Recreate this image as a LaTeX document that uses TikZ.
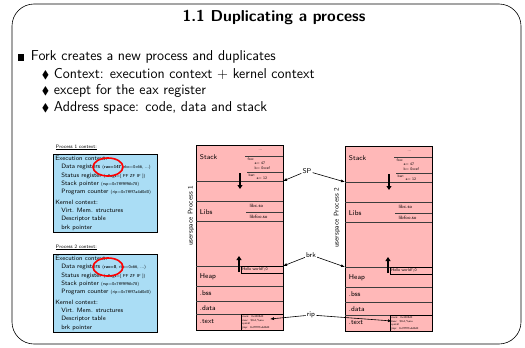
\documentclass[tikz,border=0pt]{standalone}
\usepackage{amssymb}
\usetikzlibrary{arrows.meta,shapes.geometric}
\renewcommand{\familydefault}{\sfdefault}

\definecolor{ctxblue}{RGB}{170,221,245}
\definecolor{mempink}{RGB}{255,184,184}
\definecolor{sectgray}{RGB}{60,60,60}

\newcommand{\ctxsmall}{\fontsize{4.3}{5}\selectfont}

\tikzset{
  slidetitle/.style={font=\fontsize{15.8}{18}\selectfont\bfseries, inner sep=0.75pt},
  bullettext/.style={font=\fontsize{14.3}{16}\selectfont, anchor=west, inner sep=0.75pt},
  ctxbox/.style={draw=black, line width=0.6pt, fill=ctxblue, anchor=north west, minimum width=104, minimum height=77, align=left, inner sep=2pt, font=\fontsize{6.3}{8.3}\selectfont},
  ctxlabel/.style={anchor=base west, inner sep=0.75pt, font=\fontsize{5}{6}\selectfont},
  ring/.style={draw=red, line width=1.6pt, ellipse, minimum width=30, minimum height=18, inner sep=0pt},
  memcol/.style={draw=black, line width=0.8pt, fill=mempink, anchor=north west, minimum width=87, minimum height=185, inner sep=0pt},
  sect/.style={draw=sectgray, line width=0.7pt},
  memlabel/.style={anchor=west, inner sep=0.75pt, font=\fontsize{7}{8}\selectfont},
  tiny/.style={anchor=west, inner sep=0.5pt, font=\fontsize{3.8}{4.3}\selectfont},
  tinybox/.style={draw=black, line width=0.6pt, anchor=north west, inner sep=0.8pt, align=left},
  growarrow/.style={line width=1.3pt, -{Triangle[length=4pt,width=5pt]}},
  ptrlabel/.style={inner sep=1pt, font=\fontsize{7}{8}\selectfont},
  ptr/.style={line width=0.6pt, -{Latex[length=4pt,width=3pt]}},
  spacelabel/.style={rotate=90, inner sep=0.75pt, font=\fontsize{6.8}{7}\selectfont}
}

\begin{document}
\begin{tikzpicture}[x=1pt,y=1pt,yscale=-1,xscale=1]
\useasboundingbox (0,0) rectangle (525,348);

% Slide frame
\draw[line width=0.6pt, rounded corners=22pt] (12,4) rectangle (521,344);

% Title
\node[slidetitle] (title) at (274,17) {1.1 Duplicating a process};

% Bullet list
\node[bullettext] (item1) at (17,57) {\makebox[13pt][l]{\rule{6.5pt}{6.5pt}}Fork creates a new process and duplicates};
\node[bullettext] (item2) at (41,74) {\makebox[12pt][l]{\fontsize{11}{11}\selectfont$\blacklozenge$}Context: execution context + kernel context};
\node[bullettext] (item3) at (41,91) {\makebox[12pt][l]{\fontsize{11}{11}\selectfont$\blacklozenge$}except for the eax register};
\node[bullettext] (item4) at (41,108) {\makebox[12pt][l]{\fontsize{11}{11}\selectfont$\blacklozenge$}Address space: code, data and stack};

% Process 1 context
\node[ctxlabel] (ctxlab1) at (55,148) {\underline{Process 1 context:}};
\node[ctxbox] (ctx1) at (53,154) {\makebox[100pt][l]{Execution context:}\\
\hspace*{6pt}Data registers {\ctxsmall(\textbf{rax=147}, rbx=0x66, ...)}\\
\hspace*{6pt}Status register {\ctxsmall(eflags=[ PF ZF IF ])}\\
\hspace*{6pt}Stack pointer {\ctxsmall(rsp=0x7fffffff6b78)}\\
\hspace*{6pt}Program counter {\ctxsmall(rip=0x7ffff7a4d0d0)}\\[2pt]
Kernel context:\\
\hspace*{6pt}Virt. Mem. structures\\
\hspace*{6pt}Descriptor table\\
\hspace*{6pt}brk pointer};
\node[ring] (ring1) at (108,167) {};

% Process 2 context
\node[ctxlabel] (ctxlab2) at (55,248) {\underline{Process 2 context:}};
\node[ctxbox] (ctx2) at (53,254) {\makebox[100pt][l]{Execution context:}\\
\hspace*{6pt}Data registers {\ctxsmall(\textbf{rax=0}, rbx=0x66, ...)}\\
\hspace*{6pt}Status register {\ctxsmall(eflags=[ PF ZF IF ])}\\
\hspace*{6pt}Stack pointer {\ctxsmall(rsp=0x7fffffff6b78)}\\
\hspace*{6pt}Program counter {\ctxsmall(rip=0x7ffff7a4d0d0)}\\[2pt]
Kernel context:\\
\hspace*{6pt}Virt. Mem. structures\\
\hspace*{6pt}Descriptor table\\
\hspace*{6pt}brk pointer};
\node[ring] (ring2) at (108,267) {};

% Address space of process 1
\node[memcol] (mem1) at (196,145) {};
\draw[sect] (196,181) -- (283,181);
\draw[sect] (196,201) -- (283,201);
\draw[sect] (246,212) -- (283,212);
\draw[sect] (196,221) -- (283,221);
\draw[sect] (196,266) -- (283,266);
\draw[sect] (196,286) -- (283,286);
\draw[sect] (196,301) -- (283,301);
\draw[sect] (196,314) -- (283,314);
\draw[sect] (245,156) -- (283,156);
\draw[sect] (247,172) -- (283,172);
\node[memlabel] (stack1) at (199,157) {Stack};
\node[memlabel] (libs1) at (199,212) {Libs};
\node[memlabel] (heap1) at (199,277) {Heap};
\node[memlabel] (bss1) at (199,293) {.bss};
\node[memlabel] (data1) at (199,308) {.data};
\node[memlabel] (text1) at (199,322) {.text};
\node[tiny] (dots1) at (258,150) {...};
\node[tiny] (foo1) at (247,159) {foo:};
\node[tiny] (fooa1) at (254,163.5) {a= 47};
\node[tiny] (foob1) at (254,168) {b= 0xcef};
\node[tiny] (bar1) at (248,175) {bar:};
\node[tiny] (bara1) at (256,178.5) {a= 12};
\node[tiny, font=\fontsize{4.8}{5}\selectfont] (libc1) at (249,206) {libc.so};
\node[tiny, font=\fontsize{4.8}{5}\selectfont] (libfoo1) at (249,217) {libfoo.so};
\node[tinybox, minimum width=42, minimum height=7, text width=40, font=\fontsize{4}{4.5}\selectfont] (hello1) at (241,266) {Hello world!\textbackslash 0};
\node[tinybox, minimum width=42, minimum height=16, text width=40, font=\fontsize{2.8}{3.6}\selectfont] (code1) at (241,314) {main: \ 0x4005d0\\mov: \ \$0x1,\%eax\\syscall\\jmp: \ 0x7fffff7a4d0d0};
\draw[growarrow] (240,173) -- (240,189);
\draw[growarrow] (239,272) -- (239,256);
\node[spacelabel] (us1) at (191,216) {userspace Process 1};

% Address space of process 2
\node[memcol] (mem2) at (345,146) {};
\draw[sect] (345,182) -- (432,182);
\draw[sect] (345,202) -- (432,202);
\draw[sect] (395,213) -- (432,213);
\draw[sect] (345,222) -- (432,222);
\draw[sect] (345,267) -- (432,267);
\draw[sect] (345,287) -- (432,287);
\draw[sect] (345,302) -- (432,302);
\draw[sect] (345,315) -- (432,315);
\draw[sect] (394,157) -- (432,157);
\draw[sect] (396,173) -- (432,173);
\node[memlabel] (stack2) at (348,158) {Stack};
\node[memlabel] (libs2) at (348,213) {Libs};
\node[memlabel] (heap2) at (348,278) {Heap};
\node[memlabel] (bss2) at (348,294) {.bss};
\node[memlabel] (data2) at (348,309) {.data};
\node[memlabel] (text2) at (348,323) {.text};
\node[tiny] (dots2) at (407,151) {...};
\node[tiny] (foo2) at (396,160) {foo:};
\node[tiny] (fooa2) at (403,164.5) {a= 47};
\node[tiny] (foob2) at (403,169) {b= 0xcef};
\node[tiny] (bar2) at (397,176) {bar:};
\node[tiny] (bara2) at (405,179.5) {a= 12};
\node[tiny, font=\fontsize{4.8}{5}\selectfont] (libc2) at (398,207) {libc.so};
\node[tiny, font=\fontsize{4.8}{5}\selectfont] (libfoo2) at (398,218) {libfoo.so};
\node[tinybox, minimum width=42, minimum height=7, text width=40, font=\fontsize{4}{4.5}\selectfont] (hello2) at (390,267) {Hello world!\textbackslash 0};
\node[tinybox, minimum width=42, minimum height=16, text width=40, font=\fontsize{2.8}{3.6}\selectfont] (code2) at (390,315) {main: \ 0x4005d0\\mov: \ \$0x1,\%eax\\syscall\\jmp: \ 0x7fffff7a4d0d0};
\draw[growarrow] (389,174) -- (389,190);
\draw[growarrow] (388,273) -- (388,257);
\node[spacelabel] (us2) at (337,218) {userspace Process 2};

% Pointers shared by both processes
\coordinate (sp1) at (283,181);
\coordinate (sp2) at (345,182);
\coordinate (brk1) at (283,266);
\coordinate (brk2) at (345,267);
\coordinate (rip1) at (270,319);
\coordinate (rip2) at (392,321);
\node[ptrlabel] (sp) at (307,171) {SP};
\node[ptrlabel] (brk) at (311,255) {brk};
\node[ptrlabel] (rip) at (311,315) {rip};
\draw[ptr] (sp) -- (sp1);
\draw[ptr] (sp) -- (sp2);
\draw[ptr] (brk) -- (brk1);
\draw[ptr] (brk) -- (brk2);
\draw[ptr] (rip) -- (rip1);
\draw[ptr] (rip) -- (rip2);
\end{tikzpicture}
\end{document}
